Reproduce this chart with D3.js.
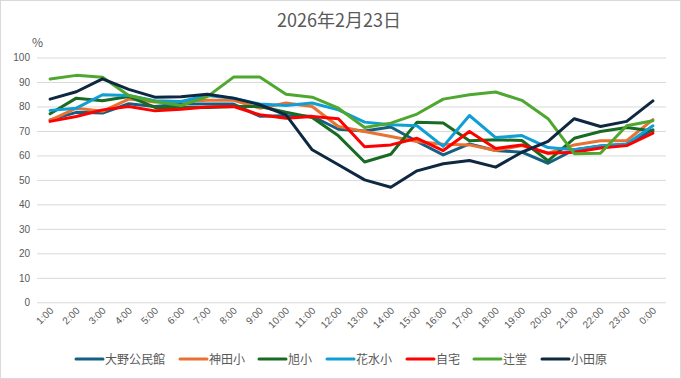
<!DOCTYPE html>
<html><head><meta charset="utf-8">
<script src="https://cdn.jsdelivr.net/npm/d3@7"></script>
<style>body{margin:0;background:#fff;}svg{display:block;font-family:"Noto Sans CJK JP","Liberation Sans",sans-serif;}</style>
</head><body>
<svg id="c" width="681" height="379"></svg>
<script>
const times = ["1:00","2:00","3:00","4:00","5:00","6:00","7:00","8:00","9:00","10:00","11:00","12:00","13:00","14:00","15:00","16:00","17:00","18:00","19:00","20:00","21:00","22:00","23:00","0:00"];
const seriesNames = ["大野公民館","神田小","旭小","花水小","自宅","辻堂","小田原"];
const oono   = [74.5,77.6,77.3,81.1,80,81,81,81,76,76.2,76,70.7,70,71.6,65.7,60.2,64.7,62,61.3,56.8,62.3,63.9,64.6,70.5];
const kanda  = [74.3,79.3,78,83,81.8,82,82.5,82.5,79.3,81.4,80,71.8,69.8,67.7,65.7,64.6,64.3,62,64,60.9,64.3,66,66,74.6];
const asahi  = [77,83.4,82.3,84.1,79.6,79.6,79.6,80,80,77.6,75.5,68,57.3,60.5,73.6,73.2,66,66.4,66.1,57.8,67,69.8,71.4,70];
const hanamizu = [78.4,79.3,84.8,84.5,82.3,82,84.5,83.4,81,80.4,81.4,78.6,73.6,72.5,72.1,63.7,76.3,67.3,68.1,63.2,62.3,63.9,64.7,72.1];
const jitaku = [73.9,75.9,78.6,80,78.2,78.9,79.8,80,76.6,75.2,75.9,75,63.5,64.3,67,62,69.8,62.8,64.3,60.9,61.3,63,64,69.1];
const tsujido = [91.2,92.7,91.9,84.5,82,80.4,84,92,92,85,83.8,79.3,71.4,73.2,76.9,83,84.8,85.9,82.5,75,60.7,60.9,72.1,74.2];
const odawara = [83,86,91.3,87,83.8,84,85,83.4,80.7,76.6,62.3,56.2,50,47,53.7,56.6,57.9,55.2,61.3,65.7,75,71.8,73.9,82.3];
const yTicks = [0,10,20,30,40,50,60,70,80,90,100];
const title = "2026年2月23日";
const unit = "%";

const colors = ["#156082","#E97132","#196B24","#0F9ED5","#FF0000","#4EA72E","#0E2841"];
const data = [oono,kanda,asahi,hanamizu,jitaku,tsujido,odawara];

const svg = d3.select("#c");
svg.append("rect").attr("x",0.5).attr("y",0.5).attr("width",680).attr("height",378).attr("fill","#fff").attr("stroke","#d9d9d9");

const pL = 37, pR = 666, pT = 57.5, pB = 302.3;
const x = d3.scaleBand().domain(times).range([pL,pR]);
const y = d3.scaleLinear().domain([0,100]).range([pB,pT]);

svg.append("text").attr("x",339).attr("y",27).attr("text-anchor","middle").attr("font-size",18).attr("fill","#595959").text(title);
svg.append("text").attr("x",32).attr("y",47).attr("font-size",12).attr("fill","#595959").text(unit);

const yAxis = svg.append("g").attr("transform",`translate(${pL},0)`)
  .call(d3.axisLeft(y).tickValues(yTicks).tickSize(-(pR-pL)).tickPadding(7));
yAxis.select(".domain").remove();
yAxis.selectAll("line").attr("stroke","#d9d9d9");
yAxis.selectAll("text").attr("font-size",10).attr("fill","#595959").attr("font-family","Liberation Sans, sans-serif");

const xAxis = svg.append("g").attr("transform",`translate(0,${pB})`)
  .call(d3.axisBottom(x).tickSize(0).tickPadding(0));
xAxis.select(".domain").remove();
xAxis.selectAll("text").attr("font-size",10).attr("fill","#595959").attr("font-family","Liberation Sans, sans-serif")
  .attr("text-anchor","end").attr("dy",0).attr("transform","translate(4,9) rotate(-45)");

const line = d3.line().x((d,i)=>x(times[i])+x.bandwidth()/2).y(d=>y(d));
data.forEach((s,k)=>{
  svg.append("path").datum(s).attr("d",line).attr("fill","none").attr("stroke",colors[k])
    .attr("stroke-width",3).attr("stroke-linejoin","round").attr("stroke-linecap","round");
});

const legX = [76,180,259,327,407,474,542];
const lg = svg.append("g");
seriesNames.forEach((n,k)=>{
  lg.append("line").attr("x1",legX[k]).attr("x2",legX[k]+27).attr("y1",359).attr("y2",359)
    .attr("stroke",colors[k]).attr("stroke-width",3).attr("stroke-linecap","round");
  lg.append("text").attr("x",legX[k]+29).attr("y",363.5).attr("font-size",12).attr("fill","#595959").text(n);
});
</script>
</body></html>
